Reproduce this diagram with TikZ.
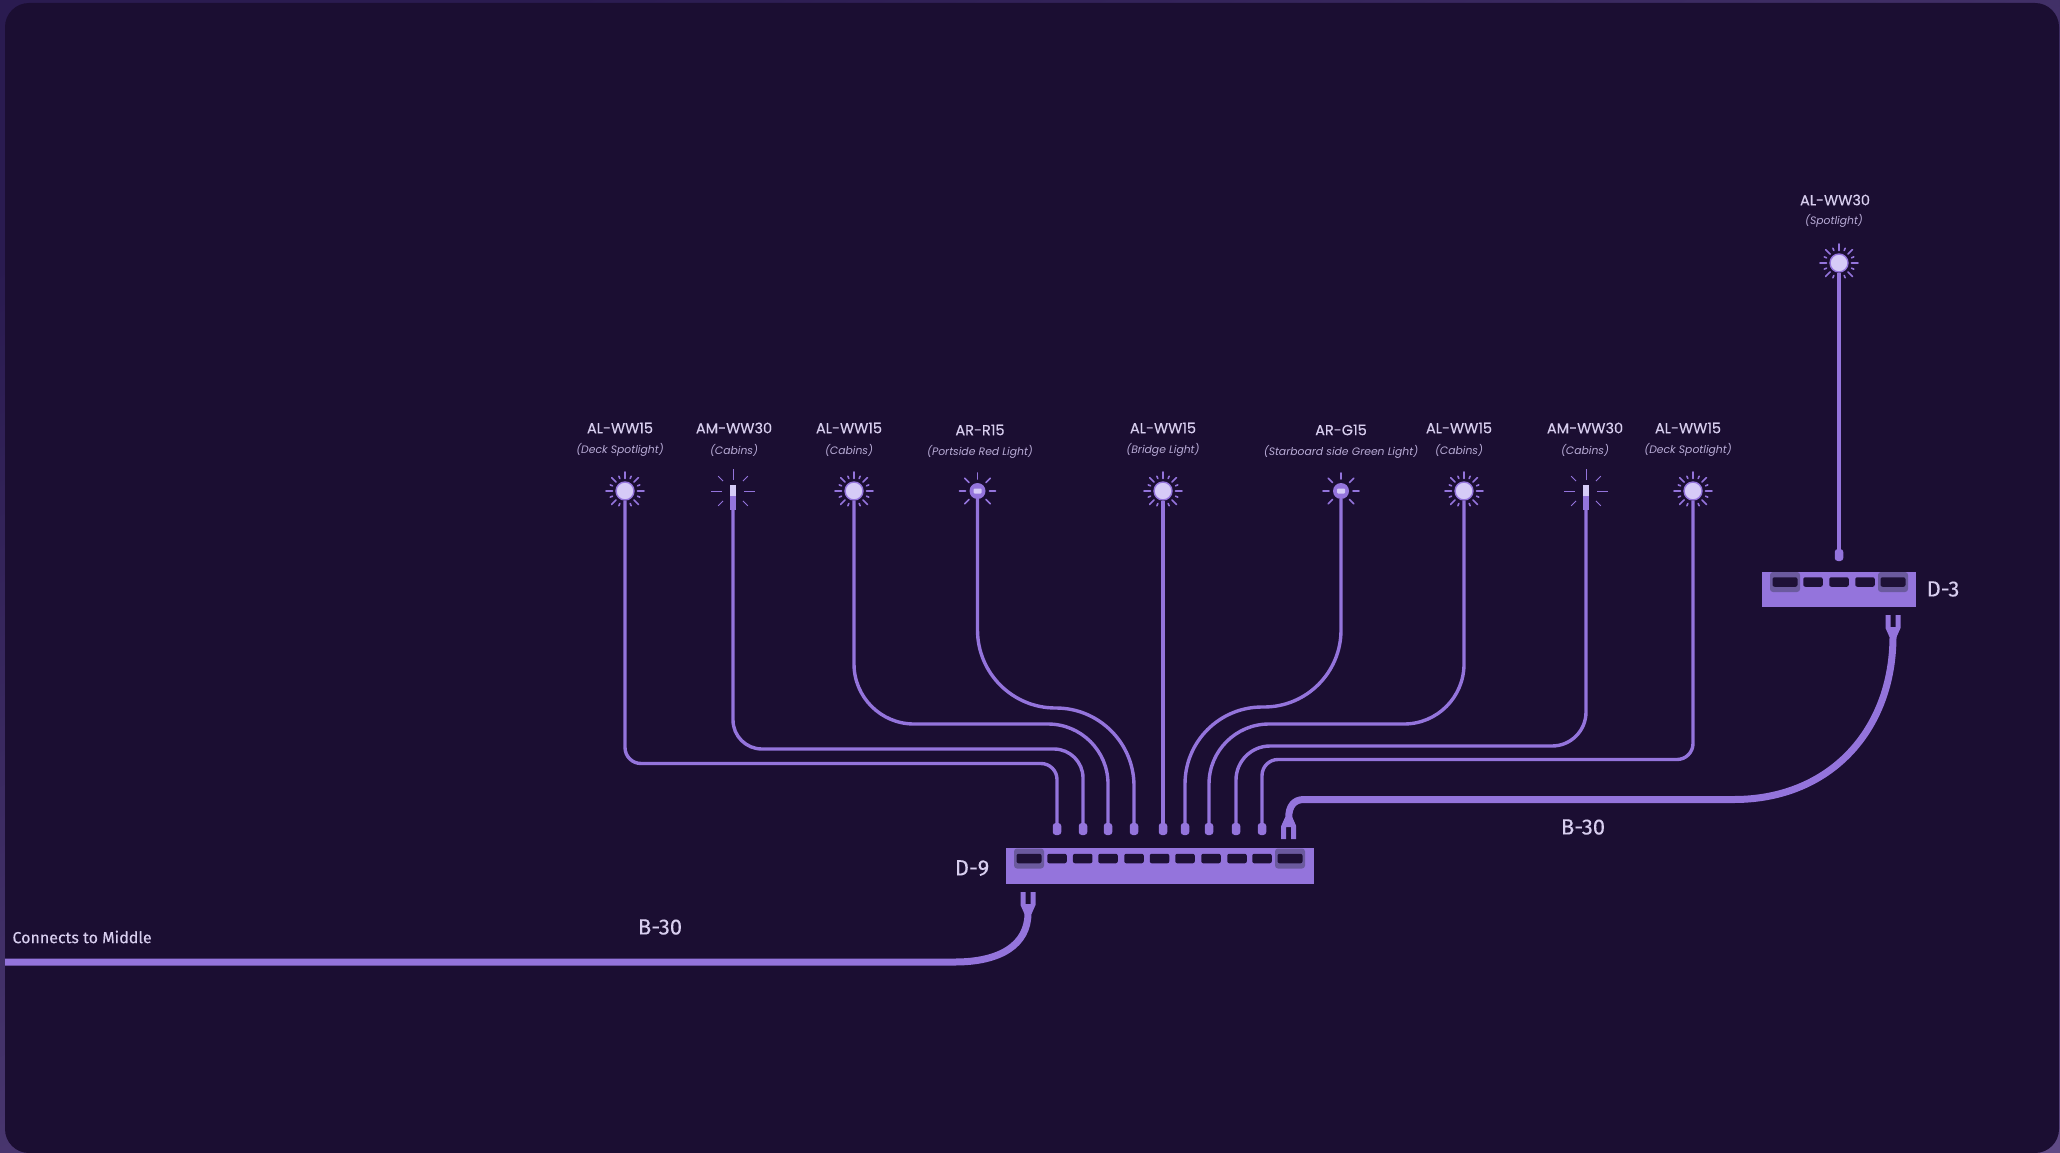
\documentclass[tikz,border=0pt]{standalone}
\usepackage{fontspec}
\setmainfont{Poppins}
\newfontfamily\namefont[FakeBold=0.25]{Poppins}
\newfontfamily\codefont[FakeBold=0.15]{Fira Sans}
\definecolor{framebg}{HTML}{2A1B50}
\definecolor{framelight}{HTML}{5F4A85}
\definecolor{panelbg}{HTML}{1B0E32}
\definecolor{wirepurple}{HTML}{9474DC}
\definecolor{lampwhite}{HTML}{D6CBF7}
\definecolor{textpale}{HTML}{D8CEEF}
\definecolor{subpale}{HTML}{B8ABD6}
\definecolor{portdark}{HTML}{1E1136}
\definecolor{portframe}{HTML}{6B5A9E}
\tikzset{
  wire/.style={draw=wirepurple, line width=3.4pt},
  trunk/.style={draw=wirepurple, line width=7pt},
  ray/.style={draw=wirepurple, line width=1.6pt, line cap=round},
  thinray/.style={draw=wirepurple, line width=1pt},
  lampname/.style={text=textpale, font=\namefont\fontsize{14.5}{16}\selectfont},
  lampuse/.style={text=subpale, font=\fontsize{10.8}{13}\itshape\selectfont},
  codelabel/.style={text=textpale, font=\codefont\fontsize{22}{24}\selectfont},
  switchbody/.style={fill=wirepurple, inner sep=0pt, anchor=north west},
  port/.style={fill=portdark, inner sep=0pt, minimum width=19.5pt, minimum height=9.5pt, rounded corners=2pt},
  wideport/.style={port, minimum width=25pt},
  portrim/.style={fill=portframe, inner sep=0pt, minimum width=30pt, minimum height=20pt, rounded corners=3pt},
  pinhead/.style={fill=wirepurple, inner sep=0pt, minimum width=8.5pt, minimum height=12pt, rounded corners=3pt},
  allamp/.pic={
    \foreach \a in {0,45,...,315} \draw[ray] (\a:12.5) -- (\a:19);
    \foreach \a in {22.5,67.5,...,337.5} \draw[ray] (\a:13.5) -- (\a:16);
    \node[circle, fill=lampwhite, draw=wirepurple, line width=1.4pt, inner sep=0pt, minimum size=18pt] (-core) at (0,0) {};
  },
  amlamp/.pic={
    \foreach \a in {0,90,180,270} \draw[thinray] (\a:11) -- (\a:22);
    \foreach \a in {45,135,225,315} \draw[thinray] (\a:14) -- (\a:21);
    \fill[lampwhite] (-3,-6) rectangle (3,5);
    \fill[wirepurple] (-3,5) rectangle (3,19);
    \coordinate (-core) at (0,19);
  },
  arlamp/.pic={
    \foreach \a in {0,45,...,315} \draw[ray] (\a:12) -- (\a:18);
    \node[circle, fill=wirepurple, inner sep=0pt, minimum size=16pt] (-core) at (0,0) {};
    \fill[lampwhite, rounded corners=1pt] (-4,-2.5) rectangle (4,2.5);
  },
  forkplug/.pic={
    \fill[wirepurple] (-7.5,0) -- (-7.5,-13) -- (-3.5,-22) -- (3.5,-22) -- (7.5,-13) -- (7.5,0) -- (2.5,0)
      -- (2.5,-12) -- (-2.5,-12) -- (-2.5,0) -- cycle;
    \coordinate (-neck) at (0,-21);
  }
}
\begin{document}
\begin{tikzpicture}[x=1pt,y=-1pt]
  \useasboundingbox (0,0) rectangle (2060,1153);
  \shade[shading=axis, top color=framebg, bottom color=framelight, shading angle=25] (0,0) rectangle (2060,1153);
  \fill[panelbg, rounded corners=24pt] (5,3) rectangle (2059,1153);

  % labels
  \node[lampname] (name1) at (620,428) {AL-WW15};
  \node[lampuse] (use1) at (620,450) {(Deck Spotlight)};
  \node[lampname] (name2) at (734,428) {AM-WW30};
  \node[lampuse] (use2) at (734,450) {(Cabins)};
  \node[lampname] (name3) at (849,428) {AL-WW15};
  \node[lampuse] (use3) at (849,450) {(Cabins)};
  \node[lampname] (name4) at (980,430) {AR-R15};
  \node[lampuse] (use4) at (980,452) {(Portside Red Light)};
  \node[lampname] (name5) at (1163,428) {AL-WW15};
  \node[lampuse] (use5) at (1163,450) {(Bridge Light)};
  \node[lampname] (name6) at (1341,430) {AR-G15};
  \node[lampuse] (use6) at (1341,452) {(Starboard side Green Light)};
  \node[lampname] (name7) at (1459,428) {AL-WW15};
  \node[lampuse] (use7) at (1459,450) {(Cabins)};
  \node[lampname] (name8) at (1585,428) {AM-WW30};
  \node[lampuse] (use8) at (1585,450) {(Cabins)};
  \node[lampname] (name9) at (1688,428) {AL-WW15};
  \node[lampuse] (use9) at (1688,450) {(Deck Spotlight)};
  \node[lampname] (name10) at (1835,200) {AL-WW30};
  \node[lampuse] (use10) at (1834,221) {(Spotlight)};

  % lamps
  \pic (lamp1) at (625,491) {allamp};
  \pic (lamp2) at (733,491) {amlamp};
  \pic (lamp3) at (854,491) {allamp};
  \pic (lamp4) at (977.5,491) {arlamp};
  \pic (lamp5) at (1163,491) {allamp};
  \pic (lamp6) at (1341,491) {arlamp};
  \pic (lamp7) at (1464,491) {allamp};
  \pic (lamp8) at (1586,491) {amlamp};
  \pic (lamp9) at (1693,491) {allamp};
  \pic (lamp10) at (1839,263) {allamp};

  % switches
  \node[switchbody, minimum width=308pt, minimum height=36pt] (d9) at (1005.5,848) {};
  \node[switchbody, minimum width=154.5pt, minimum height=35.5pt] (d3) at (1761.5,571.5) {};
  \begin{scope}
    \clip (1005.5,848) rectangle (1313,884);
    \node[portrim] (rim1) at (1029,858.5) {};
    \node[portrim] (rim2) at (1290,858.5) {};
  \end{scope}
  \begin{scope}
    \clip (1761.5,571.5) rectangle (1916,607);
    \node[portrim] (rim3) at (1785,582) {};
    \node[portrim] (rim4) at (1893,582) {};
  \end{scope}
  \node[wideport] (port1) at (1029,858.5) {};
  \node[port] (port2) at (1057,858.5) {};
  \node[port] (port3) at (1082.7,858.5) {};
  \node[port] (port4) at (1108,858.5) {};
  \node[port] (port5) at (1134,858.5) {};
  \node[port] (port6) at (1159.5,858.5) {};
  \node[port] (port7) at (1185,858.5) {};
  \node[port] (port8) at (1211,858.5) {};
  \node[port] (port9) at (1237,858.5) {};
  \node[port] (port10) at (1262,858.5) {};
  \node[wideport] (port11) at (1290,858.5) {};
  \node[wideport] (port12) at (1785,582) {};
  \node[port] (port13) at (1813,582) {};
  \node[port] (port14) at (1839,582) {};
  \node[port] (port15) at (1865,582) {};
  \node[wideport] (port16) at (1893,582) {};
  \node[codelabel] (d9name) at (972,868) {D-9};
  \node[codelabel] (d3name) at (1943,589) {D-3};

  % pins
  \node[pinhead] (pin1) at (1057,829) {};
  \node[pinhead] (pin2) at (1083,829) {};
  \node[pinhead] (pin3) at (1108,829) {};
  \node[pinhead] (pin4) at (1134,829) {};
  \node[pinhead] (pin5) at (1163,829) {};
  \node[pinhead] (pin6) at (1185,829) {};
  \node[pinhead] (pin7) at (1209,829) {};
  \node[pinhead] (pin8) at (1236,829) {};
  \node[pinhead] (pin9) at (1262,829) {};
  \node[pinhead] (pin10) at (1839,555) {};

  % wires
  \coordinate (bend1) at (800,763.5);
  \coordinate (bend2) at (800,749);
  \coordinate (bend3) at (1000,724);
  \coordinate (bend4) at (1060,708);
  \coordinate (bend6) at (1260,707);
  \coordinate (bend7) at (1350,724);
  \coordinate (bend8) at (1400,746);
  \coordinate (bend9) at (1500,759.5);
  \draw[wire, rounded corners=16pt] (lamp1-core.south) -- (lamp1-core.south |- bend1) -- (pin1.north |- bend1) -- (pin1.north);
  \draw[wire, rounded corners=29pt] (lamp2-core) -- (lamp2-core |- bend2) -- (pin2.north |- bend2) -- (pin2.north);
  \draw[wire, rounded corners=60pt] (lamp3-core.south) -- (lamp3-core.south |- bend3) -- (pin3.north |- bend3) -- (pin3.north);
  \draw[wire, rounded corners=78pt] (lamp4-core.south) -- (lamp4-core.south |- bend4) -- (pin4.north |- bend4) -- (pin4.north);
  \draw[wire] (lamp5-core.south) -- (pin5.north);
  \draw[wire, rounded corners=77pt] (lamp6-core.south) -- (lamp6-core.south |- bend6) -- (pin6.north |- bend6) -- (pin6.north);
  \draw[wire, rounded corners=60pt] (lamp7-core.south) -- (lamp7-core.south |- bend7) -- (pin7.north |- bend7) -- (pin7.north);
  \draw[wire, rounded corners=34pt] (lamp8-core) -- (lamp8-core |- bend8) -- (pin8.north |- bend8) -- (pin8.north);
  \draw[wire, rounded corners=16pt] (lamp9-core.south) -- (lamp9-core.south |- bend9) -- (pin9.north |- bend9) -- (pin9.north);
  \draw[wire] (lamp10-core.south) -- (pin10.north);

  % trunks
  \pic (plugA) at (1028,892) [yscale=-1] {forkplug};
  \pic (plugB) at (1288.7,839) {forkplug};
  \pic (plugC) at (1893,615) [yscale=-1] {forkplug};
  \coordinate (edgeleft) at (5,962);
  \coordinate (trunkA) at (955,962);
  \coordinate (trunkB) at (1304,799.5);
  \coordinate (trunkC) at (1734,799.5);
  \draw[trunk] (edgeleft) -- (trunkA) .. controls (1000,962) and (1028,945) .. (plugA-neck);
  \draw[trunk] (plugB-neck) .. controls (1288.7,806) and (1294,799.5) .. (trunkB) -- (trunkC)
    .. controls (1830,799.5) and (1893,730) .. (plugC-neck);
  \node[anchor=west, text=textpale, font=\codefont\fontsize{16}{18}\selectfont] (middle) at (9,937) {Connects to Middle};
  \node[codelabel] (cable1) at (660,927) {B-30};
  \node[codelabel] (cable2) at (1583,827) {B-30};
\end{tikzpicture}
\end{document}
